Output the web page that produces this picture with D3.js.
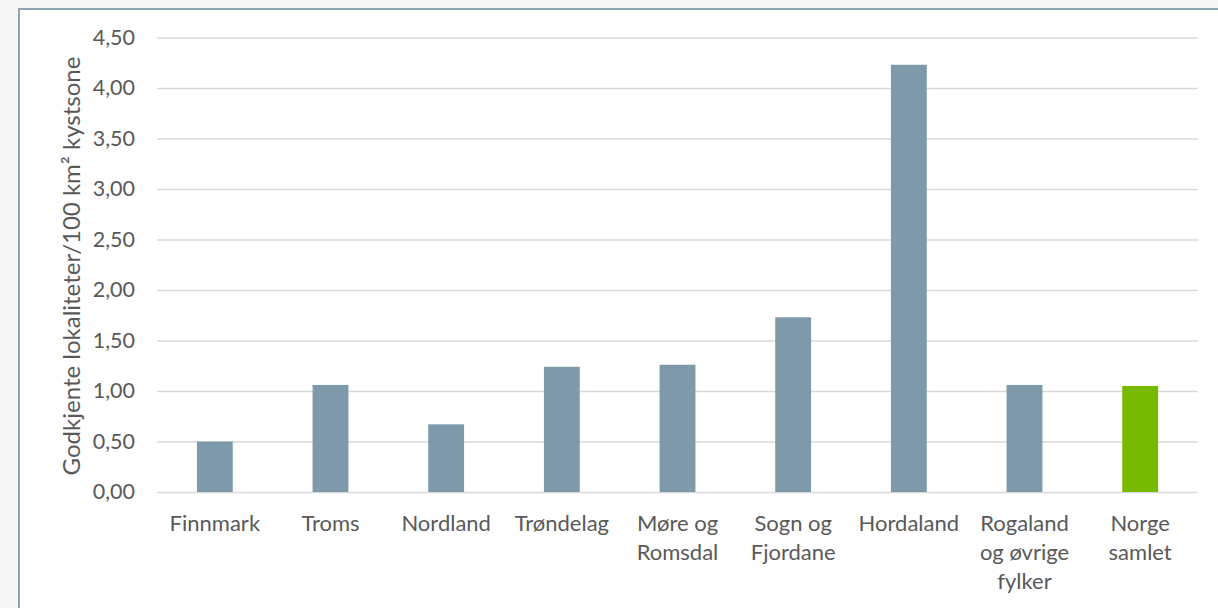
<!DOCTYPE html>
<html><head><meta charset="utf-8">
<script src="https://cdn.jsdelivr.net/npm/d3@7"></script>
<style>
html,body{margin:0;padding:0;background:#f7f7f7;}
svg{display:block;}
</style></head>
<body>
<svg id="chart" width="1218" height="608"></svg>
<script>
const categories = [["Finnmark"],["Troms"],["Nordland"],["Trøndelag"],["Møre og","Romsdal"],["Sogn og","Fjordane"],["Hordaland"],["Rogaland","og øvrige","fylker"],["Norge","samlet"]];
const values = [0.50, 1.06, 0.67, 1.24, 1.26, 1.73, 4.23, 1.06, 1.05];
const highlight = [false,false,false,false,false,false,false,false,true];
const yTicks = [0,0.5,1,1.5,2,2.5,3,3.5,4,4.5];
const yTitle = "Godkjente lokaliteter/100 km² kystsone";

(function(){
const svg = d3.select("#chart");
const font = "Lato, 'Open Sans', sans-serif";
svg.append("rect").attr("x",19).attr("y",9).attr("width",1210).attr("height",610)
  .attr("fill","#fff").attr("stroke","#8da3b2").attr("stroke-width",2);

const pLeft = 157, pRight = 1198, pTop = 37.5, pBottom = 492;
const x = d3.scaleBand().domain(d3.range(values.length)).range([pLeft,pRight]).paddingInner(0.69).paddingOuter(0.345);
const y = d3.scaleLinear().domain([0,4.5]).range([pBottom,pTop]);

const yAxis = d3.axisLeft(y).tickValues(yTicks).tickSize(-(pRight-pLeft))
  .tickFormat(d => d3.format(".2f")(d).replace(".",","));
const gy = svg.append("g").attr("transform",`translate(${pLeft},0)`).call(yAxis);
gy.select(".domain").remove();
gy.selectAll(".tick line").attr("stroke","#d9d9d9").attr("stroke-width",1.6);
gy.selectAll(".tick text").attr("x",-22).attr("fill","#595959")
  .style("font-family",font).style("font-size","21.5px");

svg.append("g").selectAll("rect").data(values).join("rect")
  .attr("x",(d,i)=>x(i)).attr("width",x.bandwidth())
  .attr("y",d=>y(d)).attr("height",d=>y(0)-y(d))
  .attr("fill",(d,i)=>highlight[i] ? "#77b900" : "#7d99aa");

const xAxis = d3.axisBottom(x).tickSize(0).tickFormat("");
const gx = svg.append("g").attr("transform",`translate(0,${pBottom})`).call(xAxis);
gx.select(".domain").remove();
gx.selectAll(".tick").each(function(i){
  const t = d3.select(this).append("text").attr("fill","#595959").attr("text-anchor","middle")
    .style("font-family",font).style("font-size","22px");
  categories[i].forEach((s,k)=>t.append("tspan").attr("x",0).attr("y",39+k*29).text(s));
});

svg.append("text").attr("transform","translate(80,266) rotate(-90)")
  .attr("text-anchor","middle").attr("fill","#595959")
  .style("font-family",font).style("font-size","24px").text(yTitle);
})();
</script>
</body></html>
